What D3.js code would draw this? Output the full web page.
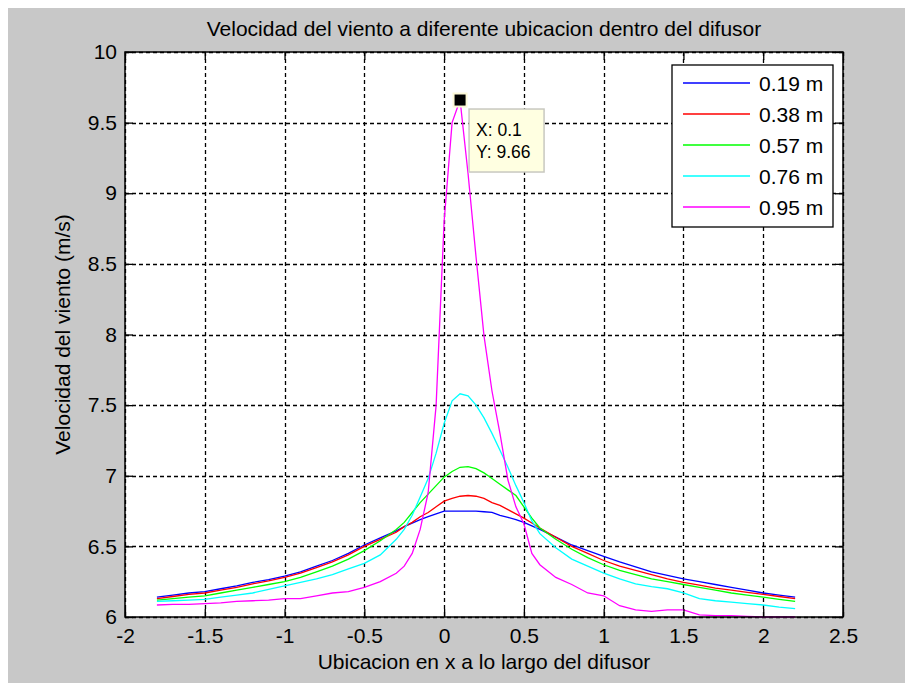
<!DOCTYPE html>
<html>
<head>
<meta charset="utf-8">
<script src="https://cdn.jsdelivr.net/npm/d3@7"></script>
<style>
  html, body { margin: 0; padding: 0; background: #ffffff; }
  svg { display: block; }
  text { font-family: "Liberation Sans", Arial, Helvetica, sans-serif; fill: #000; }
</style>
</head>
<body>
<svg id="chart" width="905" height="683"></svg>
<script>
// Measurement positions along the diffuser (m)
const positions = [
  -1.8, -1.7, -1.6, -1.5, -1.4, -1.3, -1.2, -1.1, -1.0, -0.9, -0.8, -0.7, -0.6, -0.5, -0.4, -0.3,
  -0.25, -0.2, -0.15, -0.1, -0.05, 0, 0.05, 0.1, 0.15, 0.2, 0.25, 0.3, 0.35, 0.4, 0.45, 0.5, 0.55, 0.6,
  0.7, 0.8, 0.9, 1.0, 1.1, 1.2, 1.3, 1.4, 1.5, 1.6, 1.7, 1.8, 1.9, 2.0, 2.1, 2.2
];

// Wind speed (m/s) at each height
const speed019 = [
  6.14, 6.155, 6.17, 6.18, 6.20, 6.22, 6.245, 6.265, 6.29, 6.32, 6.36, 6.40, 6.45, 6.51, 6.56, 6.61,
  6.64, 6.665, 6.69, 6.71, 6.73, 6.75, 6.75, 6.75, 6.75, 6.75, 6.745, 6.74, 6.72, 6.705, 6.69, 6.67, 6.645, 6.62,
  6.565, 6.51, 6.47, 6.43, 6.39, 6.355, 6.32, 6.295, 6.27, 6.25, 6.23, 6.21, 6.19, 6.17, 6.155, 6.14
];
const speed038 = [
  6.13, 6.145, 6.16, 6.17, 6.19, 6.21, 6.235, 6.255, 6.28, 6.31, 6.35, 6.39, 6.44, 6.50, 6.55, 6.60,
  6.64, 6.67, 6.71, 6.74, 6.78, 6.82, 6.84, 6.855, 6.86, 6.855, 6.84, 6.81, 6.79, 6.76, 6.73, 6.70, 6.665, 6.63,
  6.565, 6.50, 6.45, 6.40, 6.36, 6.33, 6.30, 6.27, 6.245, 6.225, 6.205, 6.19, 6.175, 6.16, 6.145, 6.13
];
const speed057 = [
  6.12, 6.13, 6.14, 6.15, 6.17, 6.19, 6.21, 6.23, 6.25, 6.28, 6.32, 6.36, 6.41, 6.47, 6.54, 6.62,
  6.67, 6.74, 6.81, 6.87, 6.93, 6.99, 7.03, 7.06, 7.065, 7.05, 7.02, 6.98, 6.94, 6.90, 6.86, 6.78, 6.70, 6.63,
  6.55, 6.48, 6.42, 6.37, 6.33, 6.30, 6.27, 6.25, 6.23, 6.21, 6.19, 6.17, 6.155, 6.14, 6.125, 6.11
];
const speed076 = [
  6.11, 6.115, 6.12, 6.125, 6.14, 6.155, 6.17, 6.195, 6.22, 6.245, 6.27, 6.30, 6.34, 6.38, 6.44, 6.55,
  6.62, 6.72, 6.85, 6.98, 7.16, 7.37, 7.53, 7.58, 7.565, 7.50, 7.41, 7.30, 7.18, 7.06, 6.93, 6.81, 6.68, 6.59,
  6.49, 6.41, 6.36, 6.31, 6.27, 6.235, 6.215, 6.20, 6.17, 6.13, 6.115, 6.105, 6.095, 6.085, 6.07, 6.06
];
const speed095 = [
  6.085, 6.09, 6.09, 6.095, 6.10, 6.11, 6.115, 6.12, 6.13, 6.13, 6.15, 6.17, 6.18, 6.21, 6.25, 6.31,
  6.36, 6.45, 6.62, 6.88, 7.50, 8.80, 9.50, 9.66, 9.14, 8.55, 7.99, 7.60, 7.30, 6.97, 6.78, 6.66, 6.45, 6.37,
  6.28, 6.23, 6.17, 6.15, 6.08, 6.05, 6.04, 6.05, 6.05, 6.015, 6.01, 6.01, 6.005, 6.0, 6.0, 6.0
];

const seriesNames = ["0.19 m", "0.38 m", "0.57 m", "0.76 m", "0.95 m"];
const seriesValues = [speed019, speed038, speed057, speed076, speed095];
const seriesColors = ["#0000ff", "#ff0000", "#00ff00", "#00ffff", "#ff00ff"];

const xTickValues = [-2, -1.5, -1, -0.5, 0, 0.5, 1, 1.5, 2, 2.5];
const xTickLabels = ["-2", "-1.5", "-1", "-0.5", "0", "0.5", "1", "1.5", "2", "2.5"];
const yTickValues = [6, 6.5, 7, 7.5, 8, 8.5, 9, 9.5, 10];
const yTickLabels = ["6", "6.5", "7", "7.5", "8", "8.5", "9", "9.5", "10"];

const titleText = "Velocidad del viento a diferente ubicacion dentro del difusor";
const xLabelText = "Ubicacion en x a lo largo del difusor";
const yLabelText = "Velocidad del viento (m/s)";

// Highlighted point (data tip) on the 0.95 m curve
const tipSeries = 4;
const tipIndex = 23;

// ---- layout ----
const W = 905, H = 683;
const plot = { left: 125, right: 843, top: 52, bottom: 617 };
const fontSize = 21;

const svg = d3.select("#chart");

// figure background
svg.append("rect").attr("x", 0).attr("y", 0).attr("width", W).attr("height", H).attr("fill", "#ffffff");
svg.append("rect").attr("x", 8).attr("y", 8).attr("width", W - 8).attr("height", H - 8).attr("fill", "#c8c8c8");

const x = d3.scaleLinear().domain([-2, 2.5]).range([plot.left, plot.right]);
const y = d3.scaleLinear().domain([6, 10]).range([plot.bottom, plot.top]);

// axes area
svg.append("rect")
  .attr("x", plot.left).attr("y", plot.top)
  .attr("width", plot.right - plot.left).attr("height", plot.bottom - plot.top)
  .attr("fill", "#ffffff");

// dashed grid
const grid = svg.append("g").attr("stroke", "#000").attr("stroke-width", 1.3)
  .attr("stroke-dasharray", "4,3").attr("fill", "none");
grid.selectAll("line.gx").data(xTickValues).join("line")
  .attr("class", "gx")
  .attr("x1", d => Math.round(x(d)) + 0.5).attr("x2", d => Math.round(x(d)) + 0.5)
  .attr("y1", plot.top).attr("y2", plot.bottom);
grid.selectAll("line.gy").data(yTickValues).join("line")
  .attr("class", "gy")
  .attr("y1", d => Math.round(y(d)) + 0.5).attr("y2", d => Math.round(y(d)) + 0.5)
  .attr("x1", plot.left).attr("x2", plot.right);

// data lines
const line = d3.line()
  .x(d => x(d[0]))
  .y(d => y(d[1]));

const linesG = svg.append("g").attr("fill", "none").attr("stroke-width", 1.3);
seriesValues.forEach((vals, i) => {
  const pts = positions.map((p, k) => [p, vals[k]]);
  linesG.append("path").datum(pts)
    .attr("d", line)
    .attr("stroke", seriesColors[i]);
});

// axes with inward ticks
const tickLen = 8;
const axB = svg.append("g").attr("transform", `translate(0,${plot.bottom})`)
  .call(d3.axisBottom(x).tickValues(xTickValues).tickFormat((d, i) => xTickLabels[i])
    .tickSizeInner(-tickLen).tickSizeOuter(0).tickPadding(11));
const axT = svg.append("g").attr("transform", `translate(0,${plot.top})`)
  .call(d3.axisTop(x).tickValues(xTickValues).tickFormat("")
    .tickSizeInner(-tickLen).tickSizeOuter(0));
const axL = svg.append("g").attr("transform", `translate(${plot.left},0)`)
  .call(d3.axisLeft(y).tickValues(yTickValues).tickFormat((d, i) => yTickLabels[i])
    .tickSizeInner(-tickLen).tickSizeOuter(0).tickPadding(8));
const axR = svg.append("g").attr("transform", `translate(${plot.right},0)`)
  .call(d3.axisRight(y).tickValues(yTickValues).tickFormat("")
    .tickSizeInner(-tickLen).tickSizeOuter(0));

[axB, axT, axL, axR].forEach(g => {
  g.select(".domain").remove();
  g.selectAll(".tick line").attr("stroke", "#000").attr("stroke-width", 1.3);
  g.selectAll(".tick text")
    .attr("font-size", fontSize)
    .attr("font-family", "'Liberation Sans', Arial, sans-serif")
    .attr("fill", "#000");
});

// axes box
svg.append("rect")
  .attr("x", plot.left).attr("y", plot.top)
  .attr("width", plot.right - plot.left).attr("height", plot.bottom - plot.top)
  .attr("fill", "none").attr("stroke", "#000").attr("stroke-width", 1.5);

// titles
svg.append("text")
  .attr("x", (plot.left + plot.right) / 2).attr("y", 36)
  .attr("text-anchor", "middle").attr("font-size", fontSize)
  .text(titleText);
svg.append("text")
  .attr("x", (plot.left + plot.right) / 2).attr("y", 669)
  .attr("text-anchor", "middle").attr("font-size", fontSize)
  .text(xLabelText);
svg.append("text")
  .attr("transform", `translate(70,${(plot.top + plot.bottom) / 2}) rotate(-90)`)
  .attr("text-anchor", "middle").attr("font-size", fontSize)
  .text(yLabelText);

// legend
const legend = { x: 672, y: 65, w: 161, h: 162, rowGap: 31, first: 18 };
const lg = svg.append("g").attr("transform", `translate(${legend.x},${legend.y})`);
lg.append("rect").attr("width", legend.w).attr("height", legend.h)
  .attr("fill", "#ffffff").attr("stroke", "#000").attr("stroke-width", 1.3);
const rows = lg.selectAll("g.row").data(seriesNames).join("g")
  .attr("class", "row")
  .attr("transform", (d, i) => `translate(0,${legend.first + i * legend.rowGap})`);
rows.append("line")
  .attr("x1", 11).attr("x2", 78).attr("y1", 0).attr("y2", 0)
  .attr("stroke", (d, i) => seriesColors[i]).attr("stroke-width", 1.3);
rows.append("text")
  .attr("x", 87).attr("y", 0).attr("dy", "0.36em")
  .attr("font-size", fontSize)
  .text(d => d);

// data tip
const tipX = positions[tipIndex];
const tipY = seriesValues[tipSeries][tipIndex];
const px = x(tipX), py = y(tipY);
const tip = svg.append("g");
tip.append("rect")
  .attr("x", px - 7.5).attr("y", py - 7.5).attr("width", 15).attr("height", 15)
  .attr("fill", "#fdf9d8");
tip.append("rect")
  .attr("x", px - 5.5).attr("y", py - 5.5).attr("width", 11).attr("height", 11)
  .attr("fill", "#000");
const box = tip.append("g").attr("transform", `translate(${px + 9},${py + 9})`);
box.append("rect")
  .attr("width", 75).attr("height", 63)
  .attr("fill", "#ffffe1").attr("stroke", "#c8c8c0").attr("stroke-width", 1.5);
box.append("text").attr("x", 7).attr("y", 27).attr("font-size", 17.5)
  .text(`X: ${d3.format("")(tipX)}`);
box.append("text").attr("x", 7).attr("y", 49).attr("font-size", 17.5)
  .text(`Y: ${d3.format(".2f")(tipY)}`);
</script>
</body>
</html>
